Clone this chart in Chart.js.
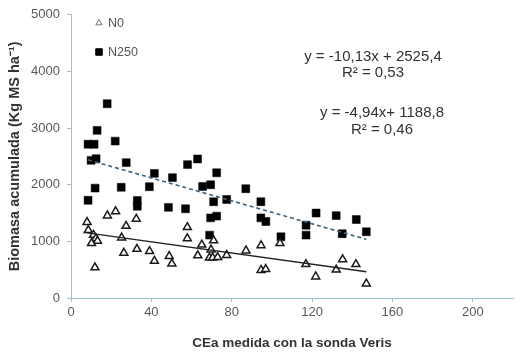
<!DOCTYPE html>
<html>
<head>
<meta charset="utf-8">
<script src="https://cdn.jsdelivr.net/npm/chart.js@4.4.0/dist/chart.umd.min.js"></script>
<style>
html,body{margin:0;padding:0;background:#fff;}
#wrap{width:531px;height:354px;position:relative;}
</style>
</head>
<body>
<div id="wrap"><canvas id="c" width="531" height="354"></canvas></div>
<script>
// ---- data ----
const seriesNames = ["N0", "N250"];
const n0X = [8, 8.6, 11.2, 12.4, 13.2, 10.2, 11.9, 18.1, 22.2, 27.4, 32.5, 25.2, 26.3, 32.8, 39.1, 41.5, 48.9, 50.2, 57.9, 57.9, 71, 65.1, 69.7, 63.1, 68.9, 70.5, 73, 77.5, 87.1, 94.6, 94.6, 96.9, 104, 116.9, 121.8, 132, 135.2, 141.8, 147];
const n0Y = [1340, 1197, 1111, 1053, 1009, 967, 538, 1455, 1529, 1271, 1397, 1065, 796, 864, 825, 653, 739, 607, 1249, 1053, 1014, 940, 854, 751, 710, 710, 722, 756, 837, 928, 493, 510, 967, 596, 378, 498, 682, 596, 253];
const n250X = [18, 13, 22, 8.5, 11.5, 10, 12.5, 27.5, 41.5, 50.5, 12, 25, 39, 8.5, 33, 33, 48.5, 58, 63, 72.5, 65.5, 69.5, 87, 71, 77.5, 94.5, 57, 69.5, 72.5, 94.5, 97, 69, 104.5, 122, 132, 142, 117, 117, 135, 147];
const n250Y = [3430, 2960, 2770, 2715, 2715, 2430, 2460, 2390, 2200, 2125, 1940, 1955, 1965, 1725, 1720, 1620, 1600, 2355, 2455, 2210, 1970, 2000, 1930, 1700, 1740, 1700, 1575, 1415, 1445, 1415, 1350, 1110, 1080, 1500, 1455, 1385, 1285, 1110, 1135, 1170];
// trend line coefficients (from the equations shown)
const trendSlope = [-4.94, -10.13];
const trendIntercept = [1188.8, 2525.4];
const equationLines = [["y = -4,94x+ 1188,8", "R\u00b2 = 0,46"], ["y = -10,13x + 2525,4", "R\u00b2 = 0,53"]];
const xTicks = [0, 40, 80, 120, 160, 200];
const yTicks = [0, 1000, 2000, 3000, 4000, 5000];
const xTitle = "CEa medida con la sonda Veris";
const yTitle = "Biomasa acumulada (Kg MS ha\u207b\u00b9)";

const pts = (xs, ys) => xs.map((x, i) => ({x: x, y: ys[i]}));
function trend(xs, k) {
  const lo = Math.min(...xs), hi = Math.max(...xs);
  return [{x: lo, y: trendSlope[k] * lo + trendIntercept[k]}, {x: hi, y: trendSlope[k] * hi + trendIntercept[k]}];
}

const axisColor = '#9CC0D6';
const tickFont = {family: "'Liberation Sans', Arial, sans-serif", size: 13};

const overlay = {
  id: 'overlay',
  afterDraw(chart) {
    const ctx = chart.ctx;
    ctx.save();
    // legend
    const items = [
      {label: seriesNames[0], style: 'triangle', r: 3.6, bg: '#fff', bc: '#777', bw: 1, x: 99, y: 23},
      {label: seriesNames[1], style: 'rect', r: 4.6, bg: '#000', bc: '#000', bw: 1, x: 99, y: 52}
    ];
    ctx.font = "12.5px 'Liberation Sans', Arial, sans-serif";
    ctx.textBaseline = 'middle';
    ctx.textAlign = 'left';
    items.forEach(it => {
      ctx.fillStyle = it.bg; ctx.strokeStyle = it.bc; ctx.lineWidth = it.bw;
      Chart.helpers.drawPoint(ctx, {pointStyle: it.style, radius: it.r, borderWidth: it.bw}, it.x, it.y);
      ctx.fillStyle = '#555';
      ctx.fillText(it.label, it.x + 9, it.y + 1);
    });
    // equations
    ctx.font = "15px 'Liberation Sans', Arial, sans-serif";
    ctx.fillStyle = '#333';
    ctx.textAlign = 'center';
    const eqPos = [[382, 113, 130], [373, 57, 73]];
    equationLines.forEach((lines, k) => {
      ctx.fillText(lines[0], eqPos[k][0], eqPos[k][1]);
      ctx.fillText(lines[1], eqPos[k][0], eqPos[k][2]);
    });
    ctx.restore();
  }
};

new Chart(document.getElementById('c'), {
  type: 'scatter',
  data: {
    datasets: [
      {type: 'line', label: 'trend ' + seriesNames[0], data: trend(n0X, 0), borderColor: '#222', borderWidth: 1.4, pointRadius: 0, fill: false},
      {type: 'line', label: 'trend ' + seriesNames[1], data: trend(n250X, 1), borderColor: '#3E6079', borderWidth: 1.6, borderDash: [4, 3], pointRadius: 0, fill: false},
      {label: seriesNames[0], data: pts(n0X, n0Y), pointStyle: 'triangle', pointRadius: 4.6, backgroundColor: '#fff', borderColor: '#1a1a1a', borderWidth: 1.5},
      {label: seriesNames[1], data: pts(n250X, n250Y), pointStyle: 'rect', pointRadius: 5.6, backgroundColor: '#000', borderColor: '#000', borderWidth: 0.5}
    ]
  },
  options: {
    responsive: false,
    animation: false,
    layout: {padding: {left: 0, right: 18, top: 7, bottom: 0}},
    plugins: {legend: {display: false}, tooltip: {enabled: false}},
    scales: {
      x: {
        type: 'linear', min: 0, max: 220,
        afterBuildTicks: s => { s.ticks = xTicks.map(v => ({value: v})); },
        afterFit: s => { s.height = 56; },
        ticks: {font: tickFont, color: '#595959', padding: 3, maxRotation: 0, callback: v => String(v)},
        grid: {drawOnChartArea: false, drawTicks: true, tickLength: 4, color: axisColor},
        border: {color: axisColor, width: 1},
        title: {display: true, text: xTitle, color: '#333', font: {family: "'Liberation Sans', Arial, sans-serif", size: 13.5, weight: 'bold'}, padding: {top: 0, bottom: 3}}
      },
      y: {
        type: 'linear', min: 0, max: 5000,
        afterBuildTicks: s => { s.ticks = yTicks.map(v => ({value: v})); },
        afterFit: s => { s.width = 71; },
        ticks: {font: tickFont, color: '#595959', padding: 7, callback: v => String(v)},
        grid: {drawOnChartArea: false, drawTicks: true, tickLength: 4, color: axisColor},
        border: {color: axisColor, width: 1},
        title: {display: true, text: yTitle, color: '#333', font: {family: "'Liberation Sans', Arial, sans-serif", size: 14.5, weight: 'bold'}, padding: {top: 6, bottom: 0}}
      }
    }
  },
  plugins: [overlay]
});
</script>
</body>
</html>
